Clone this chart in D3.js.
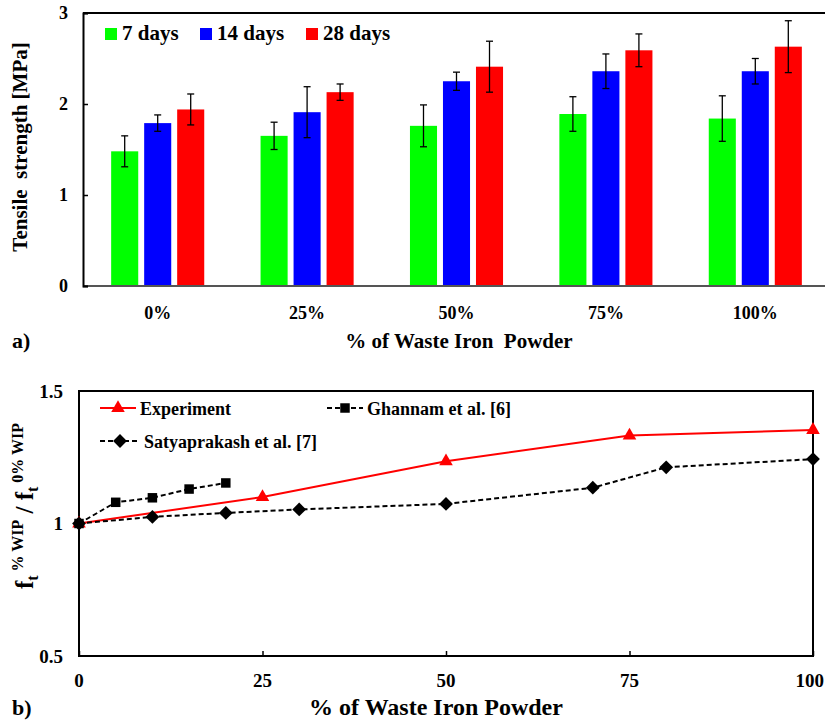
<!DOCTYPE html>
<html>
<head>
<meta charset="utf-8">
<script src="https://cdn.jsdelivr.net/npm/d3@7"></script>
<style>
  body { margin: 0; background: #fff; }
  svg text { font-family: "Liberation Serif", "Times New Roman", Times, "DejaVu Serif", serif; font-weight: bold; fill: #000; }
</style>
</head>
<body>
<div id="chart"></div>
<script>
// ---- data: panel a ----
const categories = ["0%", "25%", "50%", "75%", "100%"];
const seriesNames = ["7 days", "14 days", "28 days"];
const seriesColors = ["#00ff00", "#0000ff", "#ff0000"];
const days7 = [1.48, 1.65, 1.76, 1.89, 1.84];
const days14 = [1.79, 1.91, 2.25, 2.36, 2.36];
const days28 = [1.94, 2.13, 2.41, 2.59, 2.63];
const err7 = [0.17, 0.15, 0.23, 0.19, 0.25];
const err14 = [0.09, 0.28, 0.10, 0.19, 0.14];
const err28 = [0.17, 0.09, 0.28, 0.18, 0.285];
const yTicksA = [0, 1, 2, 3];

// ---- data: panel b ----
const expX = [0, 25, 50, 75, 100];
const expY = [1, 1.10, 1.235, 1.332, 1.353];
const ghX = [0, 5, 10, 15, 20];
const ghY = [1, 1.08, 1.097, 1.13, 1.153];
const saX = [0, 10, 20, 30, 50, 70, 80, 100];
const saY = [1, 1.025, 1.04, 1.053, 1.074, 1.135, 1.212, 1.243];
const xTicksB = [0, 25, 50, 75, 100];
const yTicksB = [0.5, 1, 1.5];

const W = 825, H = 722;
const FONT = '"Liberation Serif", "Times New Roman", Times, "DejaVu Serif", serif';
const svg = d3.select("#chart").append("svg")
    .attr("width", W)
    .attr("height", H)
    .attr("font-family", FONT);

// ================= panel a =================
const values = [days7, days14, days28];
const errors = [err7, err14, err28];
const barData = [];
categories.forEach((c, i) => {
    seriesNames.forEach((s, j) => {
        barData.push({ cat: c, series: s, value: values[j][i], err: errors[j][i], color: seriesColors[j] });
    });
});

const x0 = d3.scaleBand()
    .domain(categories)
    .range([83, 830])
    .paddingInner(0.377)
    .paddingOuter(0.1885);

const x1 = d3.scaleBand()
    .domain(seriesNames)
    .range([0, x0.bandwidth()])
    .paddingInner(0.18);

const yA = d3.scaleLinear().domain([0, 3]).range([286, 13]);

const gA = svg.append("g");

// bars
gA.selectAll(".bar")
    .data(barData)
    .enter().append("rect")
    .attr("class", "bar")
    .attr("x", d => x0(d.cat) + x1(d.series))
    .attr("y", d => yA(d.value))
    .attr("width", x1.bandwidth())
    .attr("height", d => yA(0) - yA(d.value))
    .attr("fill", d => d.color);

// error bars
const cx = d => x0(d.cat) + x1(d.series) + x1.bandwidth() / 2;
const eb = gA.selectAll(".err")
    .data(barData)
    .enter().append("g")
    .attr("class", "err")
    .attr("stroke", "#000")
    .attr("stroke-width", 1.3);
eb.append("line")
    .attr("x1", cx).attr("x2", cx)
    .attr("y1", d => yA(d.value + d.err))
    .attr("y2", d => yA(d.value - d.err));
[1, -1].forEach(sign => {
    eb.append("line")
        .attr("x1", d => cx(d) - 3.5)
        .attr("x2", d => cx(d) + 3.5)
        .attr("y1", d => yA(d.value + sign * d.err))
        .attr("y2", d => yA(d.value + sign * d.err));
});

// axes
gA.append("line")
    .attr("x1", 83).attr("x2", W)
    .attr("y1", yA(3)).attr("y2", yA(3))
    .attr("stroke", "#000").attr("stroke-width", 2);
gA.append("line")
    .attr("x1", 83).attr("x2", W)
    .attr("y1", yA(0)).attr("y2", yA(0))
    .attr("stroke", "#555").attr("stroke-width", 2);

gA.append("g")
    .attr("transform", "translate(83,0)")
    .call(d3.axisRight(yA).tickValues(yTicksA).tickSize(5).tickFormat(""))
    .call(g => g.select(".domain").attr("stroke", "#000").attr("stroke-width", 2))
    .call(g => g.selectAll(".tick line").attr("stroke", "#000").attr("stroke-width", 1.5));

gA.selectAll(".ytickA")
    .data(yTicksA)
    .enter().append("text")
    .attr("x", 68)
    .attr("y", d => yA(d))
    .attr("dy", "0.35em")
    .attr("text-anchor", "end")
    .style("font-size", "18px")
    .text(d => d);

gA.selectAll(".xtickA")
    .data(categories)
    .enter().append("text")
    .attr("x", d => x0(d) + x0.bandwidth() / 2)
    .attr("y", 313)
    .attr("dy", "0.35em")
    .attr("text-anchor", "middle")
    .style("font-size", "18px")
    .text(d => d);

gA.append("text")
    .attr("transform", "translate(27,147) rotate(-90)")
    .attr("text-anchor", "middle")
    .style("font-size", "21px")
    .style("white-space", "pre")
    .text("Tensile  strength [MPa]");

gA.append("text")
    .attr("x", 459).attr("y", 348)
    .attr("text-anchor", "middle")
    .style("font-size", "21px")
    .style("white-space", "pre")
    .text("% of Waste Iron  Powder");

gA.append("text")
    .attr("x", 12).attr("y", 348)
    .style("font-size", "22px")
    .text("a)");

// legend a
const legA = gA.selectAll(".legA")
    .data(seriesNames)
    .enter().append("g")
    .attr("transform", (d, i) => `translate(${[105, 200, 306][i]},28)`);
legA.append("rect")
    .attr("width", 12).attr("height", 12)
    .attr("fill", (d, i) => seriesColors[i]);
legA.append("text")
    .attr("x", 17).attr("y", 12)
    .style("font-size", "21px")
    .text(d => d);

// ================= panel b =================
const xB = d3.scaleLinear().domain([0, 100]).range([79, 813]);
const yB = d3.scaleLinear().domain([0.5, 1.5]).range([656, 391]);
const gB = svg.append("g");

gB.append("rect")
    .attr("x", xB(0)).attr("y", yB(1.5))
    .attr("width", xB(100) - xB(0))
    .attr("height", yB(0.5) - yB(1.5))
    .attr("fill", "none")
    .attr("stroke", "#000")
    .attr("stroke-width", 2);

gB.append("g")
    .attr("transform", `translate(0,${yB(0.5)})`)
    .call(d3.axisTop(xB).tickValues(xTicksB).tickSize(5).tickFormat(""))
    .call(g => g.select(".domain").remove())
    .call(g => g.selectAll(".tick line").attr("stroke", "#000").attr("stroke-width", 1.5));

gB.selectAll(".xtickB")
    .data(xTicksB)
    .enter().append("text")
    .attr("x", d => d === 100 ? W - 1 : xB(d))
    .attr("y", 680)
    .attr("dy", "0.35em")
    .attr("text-anchor", d => d === 100 ? "end" : "middle")
    .style("font-size", "19px")
    .text(d => d);

gB.selectAll(".ytickB")
    .data(yTicksB)
    .enter().append("text")
    .attr("x", 63)
    .attr("y", d => yB(d))
    .attr("dy", "0.35em")
    .attr("text-anchor", "end")
    .style("font-size", "19px")
    .text(d => d);

const line = d3.line().x(d => xB(d[0])).y(d => yB(d[1]));
const expPts = d3.zip(expX, expY);
const ghPts = d3.zip(ghX, ghY);
const saPts = d3.zip(saX, saY);

const triangle = d3.symbol().type(d3.symbolTriangle).size(80);
const square = d3.symbol().type(d3.symbolSquare).size(90);
const diamond = d3.symbol().type(d3.symbolSquare).size(95);

function drawSeries(pts, color, dash, sym, rot) {
    gB.append("path")
        .datum(pts)
        .attr("d", line)
        .attr("fill", "none")
        .attr("stroke", color)
        .attr("stroke-width", 2)
        .attr("stroke-dasharray", dash);
    gB.selectAll(null)
        .data(pts)
        .enter().append("path")
        .attr("transform", d => `translate(${xB(d[0])},${yB(d[1])})` + (rot ? " rotate(45)" : ""))
        .attr("d", sym)
        .attr("fill", color);
}
drawSeries(expPts, "#ff0000", null, triangle, false);
drawSeries(ghPts, "#000", "5,3", square, false);
drawSeries(saPts, "#000", "5,3", diamond, true);

// legend b
function legendItem(x, y, w, color, dash, sym, label, rot) {
    const g = gB.append("g").attr("transform", `translate(${x},${y})`);
    g.append("line")
        .attr("x1", 0).attr("x2", w)
        .attr("stroke", color).attr("stroke-width", 2)
        .attr("stroke-dasharray", dash);
    g.append("path")
        .attr("transform", `translate(${w / 2},0)` + (rot ? " rotate(45)" : ""))
        .attr("d", sym)
        .attr("fill", color);
    g.append("text")
        .attr("x", w + 4).attr("y", 7)
        .style("font-size", "18px")
        .text(label);
}
legendItem(100, 408, 36, "#ff0000", null, triangle(), "Experiment", false);
legendItem(327, 408, 36, "#000", "5,3", square(), "Ghannam et al. [6]", false);
legendItem(100, 441, 40, "#000", "5,3", diamond(), "Satyaprakash et al. [7]", true);

// y title b
const yt = gB.append("text")
    .attr("transform", "translate(33,506) rotate(-90)")
    .attr("text-anchor", "middle")
    .style("white-space", "pre");
yt.append("tspan").style("font-size", "25px").text("f");
yt.append("tspan").style("font-size", "16px").attr("dy", 5).text("t");
yt.append("tspan").style("font-size", "16px").attr("dy", -15).text(" % WIP");
yt.append("tspan").style("font-size", "25px").attr("dy", 10).text(" / f");
yt.append("tspan").style("font-size", "16px").attr("dy", 5).text("t");
yt.append("tspan").style("font-size", "16px").attr("dy", -15).text(" 0% WIP");

gB.append("text")
    .attr("x", 436).attr("y", 715)
    .attr("text-anchor", "middle")
    .style("font-size", "24px")
    .text("% of Waste Iron Powder");

gB.append("text")
    .attr("x", 12).attr("y", 715)
    .style("font-size", "22px")
    .text("b)");
</script>
</body>
</html>
